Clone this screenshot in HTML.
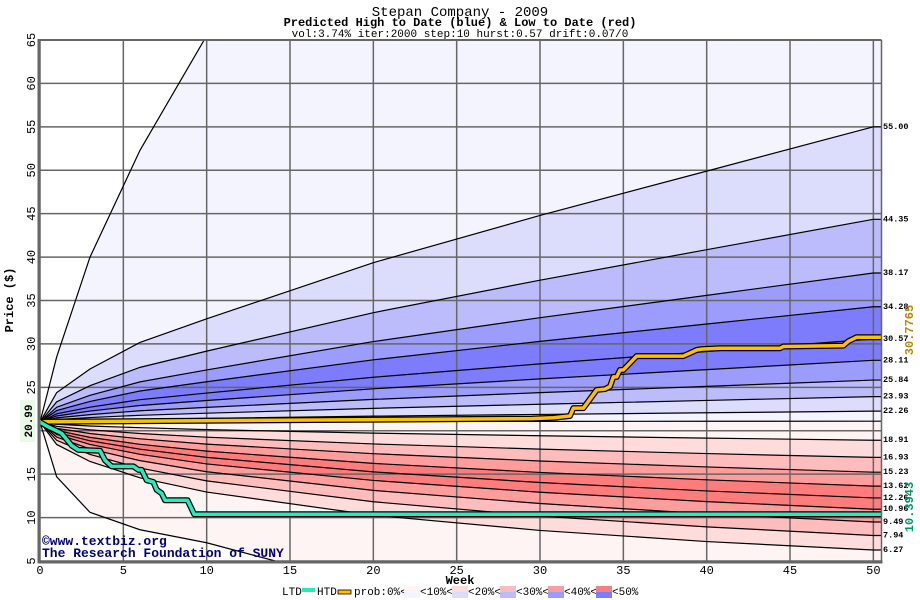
<!DOCTYPE html>
<html><head><meta charset="utf-8">
<style>
html,body{margin:0;padding:0;background:#fff;overflow:hidden;}
svg{display:block;}
text{font-family:"Liberation Mono","DejaVu Sans Mono",monospace;}
</style></head>
<body>
<svg id="chart" width="920" height="600" viewBox="0 0 920 600" xmlns="http://www.w3.org/2000/svg">
  <text x="460" y="16" text-anchor="middle" font-size="14" fill="#000">Stepan Company - 2009</text>
  <text x="460" y="26" text-anchor="middle" font-size="12" font-weight="bold" fill="#000">Predicted High to Date (blue) &amp;  Low to Date (red)</text>
  <text x="460" y="37" text-anchor="middle" font-size="11" fill="#000">vol:3.74% iter:2000 step:10 hurst:0.57 drift:0.07/0</text>
  <g id="plot"></g>
  <text transform="translate(13,300) rotate(-90)" text-anchor="middle" font-size="12" font-weight="bold">Price ($)</text>
  <text x="460" y="584" text-anchor="middle" font-size="12" font-weight="bold">Week</text>
  <rect x="20" y="400" width="15" height="42" fill="#e8fae8"/>
  <text transform="translate(32,421) rotate(-90)" text-anchor="middle" font-size="11" font-weight="bold">20.99</text>
  <text transform="translate(913,330) rotate(-90)" text-anchor="middle" font-size="12" font-weight="bold" fill="#b8860b">30.7765</text>
  <text transform="translate(913,507) rotate(-90)" text-anchor="middle" font-size="12" font-weight="bold" fill="#009966">10.3943</text>
  <text x="42" y="545" font-size="13" font-weight="bold" fill="#000080">©www.textbiz.org</text>
  <text x="42" y="557" font-size="13" font-weight="bold" fill="#000080">The Research Foundation of SUNY</text>
  <g id="legend"></g>
</svg>
<script>
const weeks = [0, 1, 3, 6, 10, 20, 30, 40, 50];
const curveOuterUpper = [20.99, 28.5, 40, 52.3, 65.5, 90, 110, 125, 140];
const curve5500 = [20.99, 24.39, 27.11, 30.17, 32.89, 39.36, 44.8, 49.9, 55];
const curve4435 = [20.99, 23.33, 25.19, 27.3, 29.17, 33.6, 37.34, 40.85, 44.35];
const curve3817 = [20.99, 22.71, 24.08, 25.63, 27.0, 30.27, 33.02, 35.59, 38.17];
const curve3428 = [20.99, 22.32, 23.38, 24.58, 25.64, 28.17, 30.29, 32.29, 34.28];
const curve3057 = [20.99, 21.95, 22.71, 23.58, 24.34, 26.16, 27.7, 29.13, 30.57];
const curve2811 = [20.99, 21.7, 22.27, 22.91, 23.48, 24.83, 25.97, 27.04, 28.11];
const curve2584 = [20.99, 21.48, 21.86, 22.3, 22.69, 23.61, 24.39, 25.11, 25.84];
const curve2393 = [20.99, 21.28, 21.52, 21.78, 22.02, 22.58, 23.05, 23.49, 23.93];
const curve2226 = [20.99, 21.12, 21.22, 21.33, 21.43, 21.68, 21.88, 22.07, 22.26];
const curveMedian = [20.99, 21.0, 21.02, 21.03, 21.04, 21.06, 21.08, 21.09, 21.1];
const curve1891 = [20.99, 20.75, 20.55, 20.35, 20.13, 19.73, 19.42, 19.15, 18.91];
const curve1693 = [20.99, 20.51, 20.10, 19.68, 19.26, 18.48, 17.88, 17.37, 16.93];
const curve1523 = [20.99, 20.28, 19.68, 19.07, 18.46, 17.36, 16.52, 15.83, 15.23];
const curve1362 = [20.99, 20.03, 19.24, 18.44, 17.65, 16.24, 15.20, 14.35, 13.62];
const curve1226 = [20.99, 19.81, 18.84, 17.88, 16.93, 15.26, 14.04, 13.07, 12.26];
const curve1096 = [20.99, 19.57, 18.42, 17.29, 16.18, 14.28, 12.92, 11.84, 10.96];
const curve949 = [20.99, 19.27, 17.90, 16.56, 15.28, 13.13, 11.62, 10.43, 9.49];
const curve794 = [20.99, 18.90, 17.27, 15.70, 14.23, 11.82, 10.17, 8.93, 7.94];
const curve627 = [20.99, 18.42, 16.46, 14.58, 12.94, 10.27, 8.52, 7.24, 6.27];
const curveOuterLower = [20.99, 14.7, 10.6, 8.6, 7.1, 2.0, -1, -3, -5];
const endLabels = ["55.00","44.35","38.17","34.28","30.57","28.11","25.84","23.93","22.26","18.91","16.93","15.23","13.62","12.26","10.96","9.49","7.94","6.27"];
const endValues = [55, 44.35, 38.17, 34.28, 30.57, 28.11, 25.84, 23.93, 22.26, 18.91, 16.93, 15.23, 13.62, 12.26, 10.96, 9.49, 7.94, 6.27];
const htdWeeks = [0, 0.5, 1.3, 1.9, 2.3, 3.6, 3.9, 4.3, 5.6, 5.9, 6.1, 6.4, 6.8, 7.0, 7.3, 7.5, 8.85, 9.25, 50.5];
const htdValues = [20.99, 20.45, 19.7, 18.3, 17.8, 17.7, 16.6, 15.9, 15.9, 15.5, 15.5, 14.3, 14.1, 13.2, 12.8, 12.0, 12.0, 10.39, 10.39];
const ltdWeeks = [0, 29.5, 30.8, 31.8, 32.0, 32.6, 33.4, 33.9, 34.2, 34.4, 34.6, 34.8, 35.0, 35.8, 38.6, 39.4, 39.7, 40.8, 44.4, 44.6, 48.2, 48.5, 49.0, 50.5];
const ltdValues = [21.03, 21.4, 21.5, 21.7, 22.6, 22.6, 24.7, 24.8, 25.1, 26.2, 26.2, 27.0, 27.0, 28.6, 28.6, 29.3, 29.4, 29.5, 29.5, 29.7, 29.8, 30.3, 30.77, 30.77];
const xTicks = [0, 5, 10, 15, 20, 25, 30, 35, 40, 45, 50];
const yTicks = [5, 10, 15, 20, 25, 30, 35, 40, 45, 50, 55, 60, 65];

const NS = "http://www.w3.org/2000/svg";
const X0 = 40, XPW = 16.667, XR = 881.5, YT = 40, YB = 561, VMIN = 5, VMAX = 65;
const xs = w => X0 + w * XPW;
const ys = v => YB - (v - VMIN) * (YB - YT) / (VMAX - VMIN);
const ysc = v => Math.min(YB + 2, Math.max(YT - 2, ys(v)));
function mk(tag, attrs, parent) { const e = document.createElementNS(NS, tag); for (const k in attrs) e.setAttribute(k, attrs[k]); parent.appendChild(e); return e; }

const plot = document.getElementById('plot');
const defs = mk('defs', {}, plot);
const cp = mk('clipPath', {id: 'clip'}, defs);
mk('rect', {x: X0, y: YT, width: XR - X0, height: YB - YT}, cp);
const bg = mk('rect', {x: X0, y: YT, width: XR - X0, height: YB - YT, fill: '#fff'}, plot);


const g = mk('g', {'clip-path': 'url(#clip)'}, plot);

const curves = [curveOuterUpper, curve5500, curve4435, curve3817, curve3428, curve3057, curve2811, curve2584, curve2393, curve2226, curveMedian, curve1891, curve1693, curve1523, curve1362, curve1226, curve1096, curve949, curve794, curve627, curveOuterLower];
const bandColors = ['#f4f4fe','#dcdcfc','#bcbcfc','#9c9cfc','#7c7cfc','#7c7cfc','#9c9cfc','#bcbcfc','#dcdcfc','#f4f4fe','#fff4f4','#ffdcdc','#ffbcbc','#ff9c9c','#ff7c7c','#ff7c7c','#ff9c9c','#ffbcbc','#ffdcdc','#fff4f4'];
// interpolate crossings so clamped curves keep their shape inside the plot
function pts(c) {
  const p = [];
  for (let i = 0; i < c.length; i++) {
    if (i > 0) {
      const a = c[i - 1], b = c[i];
      [VMIN - 0.2, VMAX + 0.2].forEach(lim => {
        if ((a - lim) * (b - lim) < 0) {
          const t = (lim - a) / (b - a);
          p.push([xs(weeks[i - 1] + t * (weeks[i] - weeks[i - 1])), ysc(lim)]);
        }
      });
    }
    p.push([xs(weeks[i]), ysc(c[i])]);
  }
  p.push([XR, ysc(c[c.length - 1])]);
  return p;
}
for (let i = 0; i < curves.length - 1; i++) {
  const a = pts(curves[i]), b = pts(curves[i + 1]).reverse();
  const poly = mk('polygon', {points: a.concat(b).map(p => p.join(',')).join(' '), fill: bandColors[i]}, g);
  
  
}
xTicks.forEach(w => {
  const l = mk('line', {x1: xs(w), x2: xs(w), y1: YT, y2: YB, stroke: '#666', 'stroke-width': 1.5}, g);
  
  
});
yTicks.forEach(v => {
  const l = mk('line', {x1: X0, x2: XR, y1: ys(v), y2: ys(v), stroke: '#666', 'stroke-width': 1.5}, g);
  
  
});
curves.forEach(c => {
  const pl = mk('polyline', {points: pts(c).map(p => p.join(',')).join(' '), fill: 'none', stroke: '#000', 'stroke-width': 1.2}, g);
  
  
});
function stepLine(wk, vals, color, name) {
  const p = wk.map((w, i) => Math.min(XR, xs(w)) + ',' + ys(vals[i])).join(' ');
  const o = mk('polyline', {points: p, fill: 'none', stroke: '#000', 'stroke-width': 6, 'stroke-linejoin': 'round'}, g);
  
  
  const l = mk('polyline', {points: p, fill: 'none', stroke: color, 'stroke-width': 3.5, 'stroke-linejoin': 'round'}, g);
  
  
}
stepLine(ltdWeeks, ltdValues, '#ffc000', 'ltd-line');
stepLine(htdWeeks, htdValues, '#22eebb', 'htd-line');
const fl = mk('line', {x1: X0 - 1, x2: X0 - 1, y1: YT - 1, y2: YB + 2, stroke: '#666', 'stroke-width': 3}, plot);
 
const fb = mk('line', {x1: X0 - 2, x2: XR + 1, y1: YB + 1, y2: YB + 1, stroke: '#666', 'stroke-width': 3}, plot);
 
const ft = mk('line', {x1: X0, x2: XR, y1: YT, y2: YT, stroke: '#666', 'stroke-width': 2}, plot);
 
const fr = mk('line', {x1: XR, x2: XR, y1: YT, y2: YB, stroke: '#666', 'stroke-width': 1.5}, plot);
 
xTicks.forEach(w => {
  const t = mk('text', {x: xs(w), y: 574, 'text-anchor': 'middle', 'font-size': 12}, plot);
  t.textContent = w;
  
  
});
yTicks.forEach(v => {
  const t = mk('text', {transform: 'translate(35,' + ys(v) + ') rotate(-90)', 'text-anchor': 'middle', 'font-size': 12}, plot);
  t.textContent = v;
  
  
});
endLabels.forEach((s, i) => {
  const t = mk('text', {x: 883, y: ys(endValues[i]) + 2, 'font-size': 8.5, 'font-weight': 'bold'}, plot);
  t.textContent = s;
  
  
});
const lg = document.getElementById('legend');
function ltext(x, s) { const t = mk('text', {x: x, y: 595, 'font-size': 11}, lg); t.textContent = s;   }
ltext(282, 'LTD');
const s1 = mk('rect', {x: 302, y: 588, width: 13, height: 4, fill: '#22eebb'}, lg);
 
ltext(317, 'HTD');
const s2 = mk('rect', {x: 338, y: 590, width: 13, height: 4, fill: '#ffc000', stroke: '#000', 'stroke-width': 0.8}, lg);
 
ltext(354, 'prob:0%<');
const swTop = ['#fff4f4','#ffdcdc','#ffbcbc','#ff9c9c','#ff7c7c'];
const swBot = ['#f4f4fe','#dcdcfc','#bcbcfc','#9c9cfc','#7c7cfc'];
const swLabels = ['<10%<','<20%<','<30%<','<40%<','<50%'];
swTop.forEach((c, i) => {
  const x = 404 + i * 48;
  const a = mk('rect', {x: x, y: 586, width: 16, height: 6, fill: c}, lg);
   
  const b = mk('rect', {x: x, y: 592, width: 16, height: 6, fill: swBot[i]}, lg);
   
  ltext(x + 16, swLabels[i]);
});
</script>
</body></html>
